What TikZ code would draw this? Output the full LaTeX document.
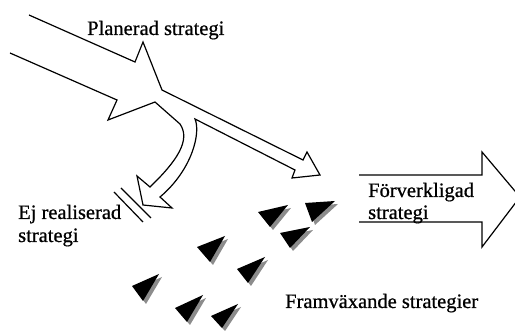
\documentclass[tikz,border=0pt]{standalone}
\usepackage{fontspec}
\setmainfont[UprightFeatures={FakeBold=0.7}]{Liberation Serif}
\begin{document}
\begin{tikzpicture}[x=1pt,y=-1pt,
  outline/.style={draw=black,line width=1.2pt,line join=miter},
  label/.style={inner sep=0pt,anchor=base west,
    font=\fontsize{20.5}{23}\selectfont},
  shadowtri/.style={fill=black!45},
  bodytri/.style={fill=black}]
\useasboundingbox (0,0) rectangle (515,331);

% small emergent strategies: black triangles with a grey drop shadow
\newcommand\flocktri[3]{%
  \fill[shadowtri] ([shift={(3,3)}]#1) -- ([shift={(3,3)}]#2) -- ([shift={(3,3)}]#3) -- cycle;
  \fill[bodytri] (#1) -- (#2) -- (#3) -- cycle;}

% planned strategy arrow, splitting into realised and abandoned parts
\draw[outline]
  (29,15) -- (135,62) -- (143,42) -- (162,90) -- (303,160) -- (307,152)
  -- (320,175) -- (292,178) -- (295,170) -- (195,119)
  .. controls (201,133) and (192,170) .. (160,197)
  -- (172,208) -- (143,205) -- (137,176) -- (150,187)
  .. controls (177,161) and (191,140) .. (180,124)
  -- (155,102) -- (108,120) -- (117,100) -- (10,53);

% barrier stopping the unrealised strategy
\draw[line width=1.2pt] (114,192) -- (143,222);
\draw[line width=1.2pt] (121,188) -- (151,218);

% realised strategy arrow
\draw[outline]
  (359,175) -- (482,175) -- (482,152) -- (520,197) -- (482,247)
  -- (482,222) -- (359,222);

% emergent strategies
\flocktri{258,212}{288,205}{270,227}
\flocktri{305,203}{335,201}{312,222}
\flocktri{280,233}{310,227}{290,248}
\flocktri{197,247}{225,236}{210,262}
\flocktri{237,269}{265,257}{248,283}
\flocktri{132,286}{159,274}{143,301}
\flocktri{175,308}{203,295}{187,322}
\flocktri{211,316}{238,304}{222,328}

% labels
\node[label] (planned) at (87,35) {Planerad strategi};
\node[label] (unreal1) at (18,219) {Ej realiserad};
\node[label] (unreal2) at (18,242) {strategi};
\node[label] (real1) at (368,197) {Förverkligad};
\node[label] (real2) at (368,219) {strategi};
\node[label] (emerg) at (285,308) {Framväxande strategier};
\end{tikzpicture}
\end{document}
